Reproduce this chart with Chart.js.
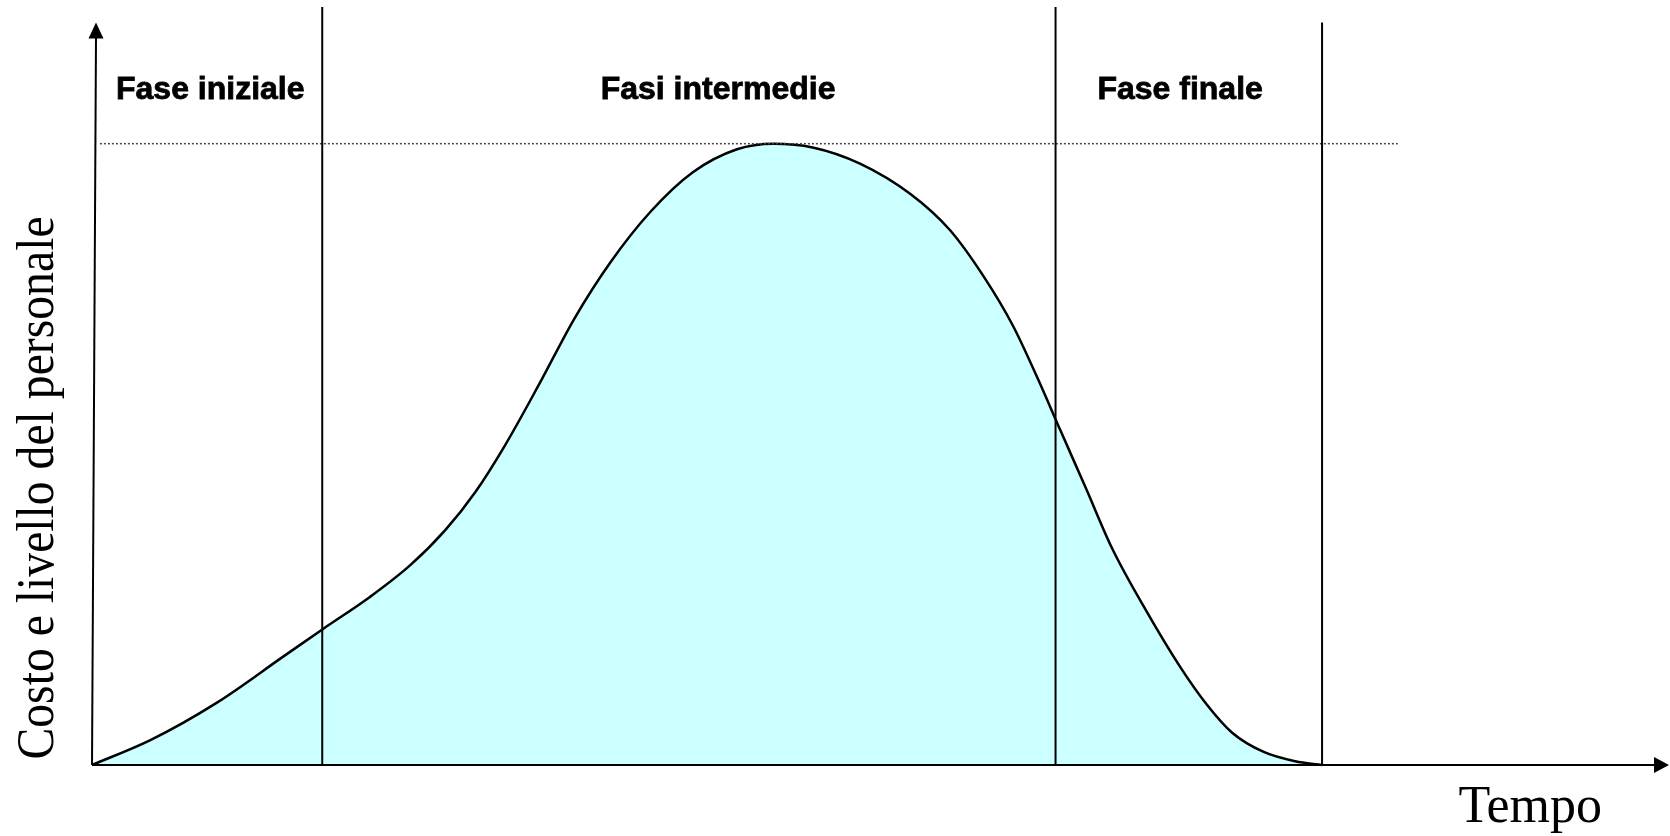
<!DOCTYPE html>
<html lang="it">
<head>
    <meta charset="UTF-8">
    <title>Costo e livello del personale nel tempo</title>
    <script src="https://cdn.jsdelivr.net/npm/chart.js"></script>
    <style>
        body { margin: 0; background: #fff; }
    </style>
</head>
<body>
    <canvas id="lifeCycle" width="1670" height="836"></canvas>

    <script>
        // Time (x) and cost / staff level (y) of the curve, peak = 100
        const timeX = [0, 3.7, 7.9, 12.1, 14.65, 17.6, 20.2, 22.4, 24.3, 26.2, 28.4, 30.6, 32.9, 35.4, 38.1, 40.9, 43.2,
                       45.7, 48.7, 51.9, 54.4, 56.6, 58.4, 59.9, 61.4, 63.0, 64.7, 66.9, 69.0, 70.7, 72.3, 74.3, 76.3, 78.0];
        const costY = [0, 4.0, 10.0, 17.4, 21.9, 27.0, 32.2, 37.8, 43.9, 51.5, 61.5, 71.9, 81.0, 89.0, 95.4, 99.1, 100,
                       99.4, 96.8, 91.9, 86.1, 78.4, 70.7, 62.6, 53.9, 44.7, 34.8, 24.6, 15.8, 9.7, 5.2, 2.1, 0.6, 0];

        // Phase boundaries and labels
        const phaseBounds = [14.6, 61.1, 78.0];
        const phaseTops = [122, 122, 119.5];
        const phaseNames = ['Fase iniziale', 'Fasi intermedie', 'Fase finale'];
        const phaseLabelX = [7.5, 39.7, 69.0];
        const phaseLabelY = 107.2;

        // Dotted peak level
        const peakLevel = 100;
        const peakLineX = [0.5, 82.8];

        const axisTitleX = 'Tempo';
        const axisTitleY = 'Costo e livello del personale';

        const curve = timeX.map((x, i) => ({ x: x, y: costY[i] }));

        const datasets = [{
            data: curve,
            borderColor: '#000',
            borderWidth: 2.5,
            backgroundColor: '#ccffff',
            fill: 'origin',
            pointRadius: 0,
            cubicInterpolationMode: 'monotone',
            order: 3
        }, {
            data: peakLineX.map(x => ({ x: x, y: peakLevel })),
            borderColor: '#444',
            borderWidth: 1.5,
            borderDash: [2, 2],
            pointRadius: 0,
            fill: false,
            order: 2
        }];

        phaseBounds.forEach((b, i) => {
            datasets.push({
                data: [{ x: b, y: 0 }, { x: b, y: phaseTops[i] }],
                borderColor: '#000',
                borderWidth: 2,
                pointRadius: 0,
                fill: false,
                order: 1
            });
        });

        // axes with arrows and all the texts
        const decorPlugin = {
            id: 'decor',
            afterDatasetsDraw(chart) {
                const { ctx, scales } = chart;
                const xs = scales.x, ys = scales.y;
                const x0 = xs.getPixelForValue(0);
                const y0 = ys.getPixelForValue(0);
                const yTop = ys.getPixelForValue(119.5);
                const xEnd = xs.getPixelForValue(100);

                ctx.save();
                ctx.strokeStyle = '#000';
                ctx.fillStyle = '#000';
                ctx.lineWidth = 2;

                // y axis (slightly slanted like the original)
                ctx.beginPath();
                ctx.moveTo(x0, y0);
                ctx.lineTo(x0 + 4, yTop + 14);
                ctx.stroke();
                ctx.beginPath();
                ctx.moveTo(x0 + 4, yTop);
                ctx.lineTo(x0 - 3.5, yTop + 16);
                ctx.lineTo(x0 + 11.5, yTop + 16);
                ctx.closePath();
                ctx.fill();

                // x axis
                ctx.beginPath();
                ctx.moveTo(x0, y0);
                ctx.lineTo(xEnd - 12, y0);
                ctx.stroke();
                ctx.beginPath();
                ctx.moveTo(xEnd, y0);
                ctx.lineTo(xEnd - 15, y0 - 8);
                ctx.lineTo(xEnd - 15, y0 + 8);
                ctx.closePath();
                ctx.fill();

                // phase labels, a touch heavier than plain bold
                ctx.font = 'bold 32px "Liberation Sans", Arial, sans-serif';
                ctx.textAlign = 'center';
                ctx.textBaseline = 'alphabetic';
                ctx.lineWidth = 0.8;
                phaseNames.forEach((name, i) => {
                    const px = xs.getPixelForValue(phaseLabelX[i]);
                    const py = ys.getPixelForValue(phaseLabelY);
                    ctx.fillText(name, px, py);
                    ctx.strokeText(name, px, py);
                });

                // x axis title
                ctx.font = '52px "Liberation Serif", "Times New Roman", serif';
                ctx.fillText(axisTitleX, xs.getPixelForValue(91.2), y0 + 57);

                // y axis title
                ctx.translate(53, 488);
                ctx.rotate(-Math.PI / 2);
                ctx.scale(0.9, 1);
                ctx.font = '53px "Liberation Serif", "Times New Roman", serif';
                ctx.fillText(axisTitleY, 0, 0);
                ctx.restore();
            }
        };

        const chart = new Chart(document.getElementById('lifeCycle').getContext('2d'), {
            type: 'line',
            data: { datasets: datasets },
            options: {
                responsive: false,
                animation: false,
                layout: {
                    padding: { left: 92, right: 1, top: 7, bottom: 71 }
                },
                scales: {
                    x: { type: 'linear', min: 0, max: 100, display: false },
                    y: { type: 'linear', min: 0, max: 122, display: false }
                },
                plugins: {
                    legend: { display: false },
                    tooltip: { enabled: false }
                },
                clip: false
            },
            plugins: [decorPlugin]
        });
    </script>
</body>
</html>
